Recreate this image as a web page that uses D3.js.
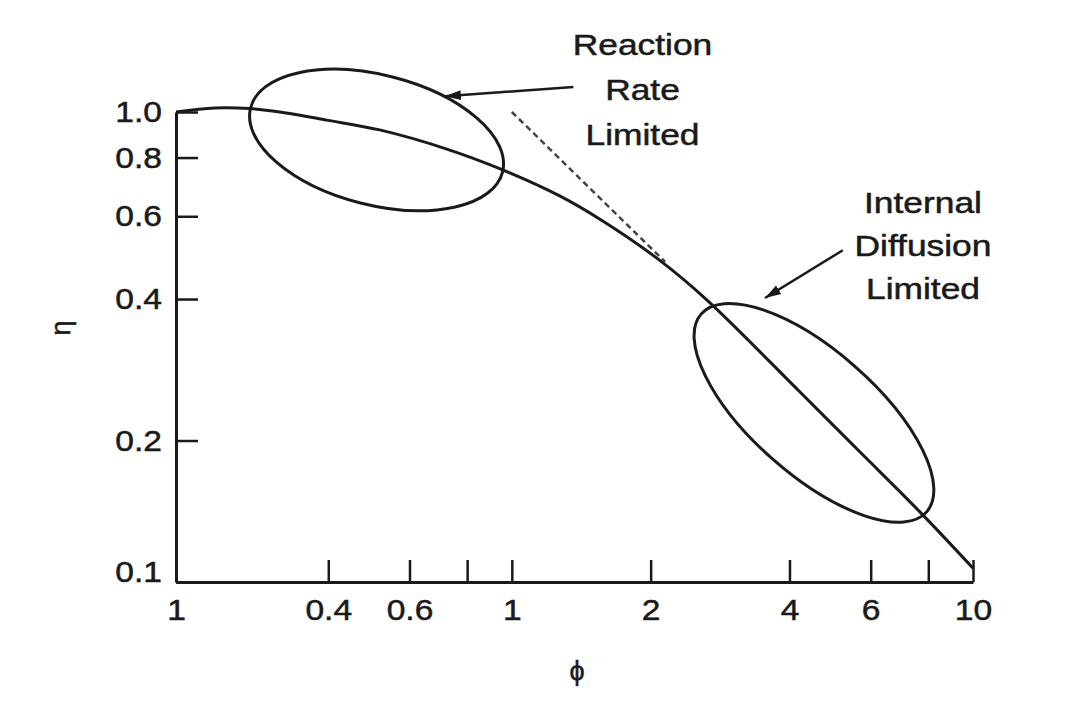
<!DOCTYPE html>
<html>
<head>
<meta charset="utf-8">
<script src="https://cdn.jsdelivr.net/npm/d3@7"></script>
<style>
  html, body { margin: 0; padding: 0; background: #fff; }
  text { font-family: "Liberation Sans", Arial, Helvetica, sans-serif; fill: #1a1a1a; stroke: #1a1a1a; stroke-width: 0.5px; }
</style>
</head>
<body>
<svg id="chart"></svg>
<script>
// effectiveness factor curve
const phi = [0.187, 0.227, 0.27, 0.314, 0.397, 0.517, 0.723, 0.956, 1.27, 1.55, 2.09, 2.65, 4.21, 5.69, 7.67, 10];
const eta = [1.0, 1.02, 1.017, 1.0, 0.961, 0.916, 0.834, 0.753, 0.663, 0.592, 0.484, 0.398, 0.254, 0.189, 0.141, 0.107];

// dashed asymptote
const asymPhi = [1.0, 2.15];
const asymEta = [1.0, 0.48];

// ticks
const xTickValues = [0.187, 0.4, 0.6, 0.8, 1, 2, 4, 6, 8, 10];
const xTickLabels = ["1", "0.4", "0.6", "", "1", "2", "4", "6", "", "10"];
const yTickValues = [0.1, 0.2, 0.4, 0.6, 0.8, 1.0];
const yTickLabels = ["0.1", "0.2", "0.4", "0.6", "0.8", "1.0"];

// regions circled on the chart
const regionNames = [["Reaction", "Rate", "Limited"], ["Internal", "Diffusion", "Limited"]];
const regionCenterPhi = [0.509, 4.52];
const regionCenterEta = [0.872, 0.229];
const labelPhi = [1.92, 7.79];
const labelEta = [1.32, 0.609];
const arrowFromPhi = [1.36, 5.22];
const arrowFromEta = [1.13, 0.508];
const arrowToPhi = [0.716, 3.54];
const arrowToEta = [1.08, 0.402];

const width = 1071, height = 709;
const ink = "#1a1a1a";

const svg = d3.select("#chart")
  .attr("width", width)
  .attr("height", height);

const x = d3.scaleLog().domain([0.187, 10]).range([176, 973]);
const y = d3.scaleLog().domain([0.1, 1.0]).range([582, 112]);

// Axes
const xAxis = d3.axisBottom(x)
  .tickValues(xTickValues)
  .tickFormat((d, i) => xTickLabels[i])
  .tickSizeInner(-22)
  .tickSizeOuter(0)
  .tickPadding(17);

const yAxis = d3.axisLeft(y)
  .tickValues(yTickValues)
  .tickFormat((d, i) => yTickLabels[i])
  .tickSizeInner(-22)
  .tickSizeOuter(0)
  .tickPadding(0);

const gx = svg.append("g")
  .attr("transform", `translate(0,${y(0.1)})`)
  .call(xAxis);

const gy = svg.append("g")
  .attr("transform", `translate(${x(0.187)},0)`)
  .call(yAxis);

[gx, gy].forEach(g => {
  g.select(".domain").attr("stroke", ink).attr("stroke-width", 3);
  g.selectAll(".tick line").attr("stroke", ink).attr("stroke-width", 2.5);
  g.selectAll(".tick text")
    .attr("font-size", 30)
    .attr("font-family", null)
    .attr("fill", ink);
});

gx.selectAll(".tick text")
  .attr("transform", "scale(1.12,1)");

gy.selectAll(".tick text")
  .attr("x", 0)
  .attr("transform", (d, i) => `translate(-14,${i === 0 ? -10 : 0}) scale(1.12,1)`);

// Curve
const line = d3.line()
  .x(d => x(d[0]))
  .y(d => y(d[1]))
  .curve(d3.curveCatmullRom.alpha(0.5));

svg.append("path")
  .datum(d3.zip(phi, eta))
  .attr("d", line)
  .attr("fill", "none")
  .attr("stroke", ink)
  .attr("stroke-width", 3);

svg.append("path")
  .datum(d3.zip(asymPhi, asymEta))
  .attr("d", d3.line().x(d => x(d[0])).y(d => y(d[1])))
  .attr("fill", "none")
  .attr("stroke", "#444")
  .attr("stroke-width", 2.5)
  .attr("stroke-dasharray", "6,4");

// Ellipses round the two regions
const ellipseR = [[130, 65, 14.3], [150, 62, 41.3]];

svg.selectAll("ellipse.region")
  .data(d3.range(2))
  .enter()
  .append("ellipse")
  .attr("class", "region")
  .attr("transform", i => `translate(${x(regionCenterPhi[i])},${y(regionCenterEta[i])}) rotate(${ellipseR[i][2]})`)
  .attr("rx", i => ellipseR[i][0])
  .attr("ry", i => ellipseR[i][1])
  .attr("fill", "none")
  .attr("stroke", ink)
  .attr("stroke-width", 3);

// Arrows
svg.append("defs").append("marker")
  .attr("id", "head")
  .attr("markerUnits", "userSpaceOnUse")
  .attr("viewBox", "0 0 16 12")
  .attr("refX", 16)
  .attr("refY", 6)
  .attr("markerWidth", 16)
  .attr("markerHeight", 12)
  .attr("orient", "auto")
  .append("path")
  .attr("d", "M0,1 L16,6 L0,11 Z")
  .attr("fill", ink);

svg.selectAll("line.arrow")
  .data(d3.range(2))
  .enter()
  .append("line")
  .attr("class", "arrow")
  .attr("x1", i => x(arrowFromPhi[i]))
  .attr("y1", i => y(arrowFromEta[i]))
  .attr("x2", i => x(arrowToPhi[i]))
  .attr("y2", i => y(arrowToEta[i]))
  .attr("stroke", ink)
  .attr("stroke-width", 2.5)
  .attr("marker-end", "url(#head)");

// Region labels
const lineGap = [45, 43];
regionNames.forEach((names, i) => {
  names.forEach((t, j) => {
    svg.append("text")
      .attr("transform", `translate(${x(labelPhi[i])},${y(labelEta[i]) + j * lineGap[i]}) scale(1.22,1)`)
      .attr("text-anchor", "middle")
      .attr("font-size", 29)
      .text(t);
  });
});

// Axis titles
svg.append("text")
  .attr("transform", "translate(70,328) rotate(-90)")
  .attr("text-anchor", "middle")
  .attr("font-size", 27)
  .text("η");

svg.append("text")
  .attr("x", 577)
  .attr("y", 680)
  .attr("text-anchor", "middle")
  .attr("font-size", 27)
  .text("ϕ");
</script>
</body>
</html>
